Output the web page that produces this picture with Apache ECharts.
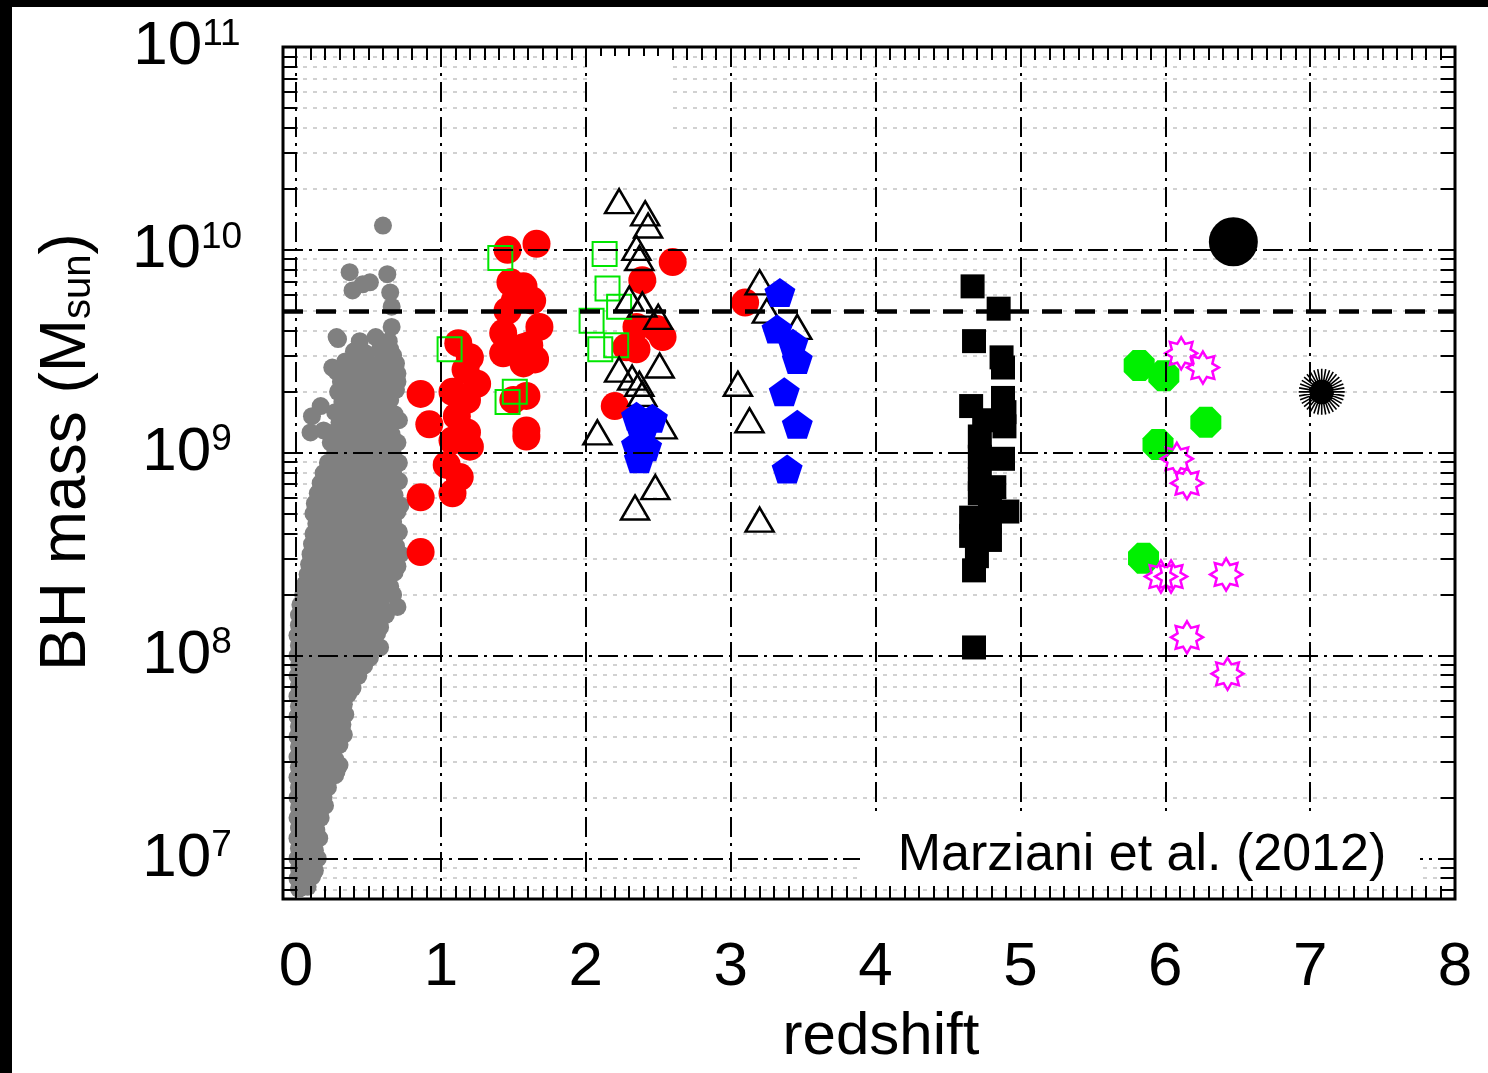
<!DOCTYPE html>
<html>
<head>
<meta charset="utf-8">
<title>BH mass vs redshift</title>
<script src="https://cdn.jsdelivr.net/npm/echarts@6/dist/echarts.min.js"></script>
<style>html,body{margin:0;padding:0;background:#fff;}</style>
</head>
<body>
<div id="main" style="width:1488px;height:1073px;"></div>
<script>
// every point is [redshift, log10(M_BH / M_sun)]
var grayLowZ = [
  [0.60,10.12],[0.37,9.89],[0.39,9.80],[0.46,9.83],[0.51,9.84],[0.63,9.88],[0.65,9.79],
  [0.66,9.72],[0.66,9.62],[0.28,9.57],[0.25,9.42],[0.70,9.35],[0.65,9.51],
  [0.17,9.23],[0.11,9.18],[0.10,9.10],[0.19,9.11],
  [0.29,9.56],[0.44,9.55],[0.55,9.57],[0.64,9.55],
  [0.40,9.50],[0.48,9.49],[0.58,9.51],[0.67,9.48],
  [0.34,9.45],[0.41,9.46],[0.51,9.44],[0.60,9.46],[0.69,9.44],
  [0.28,9.40],[0.37,9.41],[0.45,9.39],[0.54,9.40],[0.63,9.41],[0.70,9.39],
  [0.31,9.35],[0.40,9.36],[0.49,9.34],[0.57,9.35],[0.66,9.36],
  [0.29,9.30],[0.36,9.29],[0.44,9.31],[0.52,9.30],[0.61,9.29],[0.69,9.31],
  [0.32,9.25],[0.40,9.26],[0.48,9.24],[0.56,9.25],[0.65,9.26],
  [0.27,9.20],[0.35,9.21],[0.43,9.19],[0.51,9.20],[0.59,9.21],[0.68,9.19],
  [0.30,9.15],[0.38,9.14],[0.46,9.16],[0.55,9.15],[0.63,9.14],[0.71,9.16],
  [0.26,9.10],[0.34,9.11],[0.42,9.09],[0.50,9.10],[0.58,9.11],[0.66,9.09],
  [0.24,9.05],[0.31,9.04],[0.39,9.06],[0.47,9.05],[0.54,9.04],[0.62,9.06],[0.70,9.05],
  [0.27,9.00],[0.35,9.01],[0.43,8.99],[0.51,9.00],[0.59,9.01],[0.67,8.99],
  [0.22,8.95],[0.30,8.96],[0.38,8.94],[0.46,8.95],[0.55,8.96],[0.63,8.94],[0.71,8.95],
  [0.19,8.90],[0.26,8.89],[0.34,8.91],[0.42,8.90],[0.50,8.89],[0.58,8.91],[0.67,8.90],
  [0.17,8.85],[0.23,8.86],[0.31,8.84],[0.39,8.85],[0.47,8.86],[0.55,8.84],[0.63,8.85],[0.71,8.86],
  [0.15,8.80],[0.21,8.79],[0.28,8.81],[0.36,8.80],[0.44,8.79],[0.52,8.81],[0.60,8.80],[0.68,8.79],
  [0.13,8.75],[0.19,8.76],[0.26,8.74],[0.33,8.75],[0.41,8.76],[0.49,8.74],[0.57,8.75],[0.65,8.76],[0.72,8.74],
  [0.12,8.70],[0.17,8.69],[0.24,8.71],[0.31,8.70],[0.38,8.69],[0.46,8.71],[0.54,8.70],[0.62,8.69],[0.70,8.71],
  [0.14,8.65],[0.21,8.66],[0.28,8.64],[0.35,8.65],[0.43,8.66],[0.51,8.64],[0.59,8.65],[0.67,8.66],
  [0.12,8.60],[0.18,8.59],[0.25,8.61],[0.32,8.60],[0.40,8.59],[0.48,8.61],[0.56,8.60],[0.64,8.59],[0.71,8.61],
  [0.11,8.55],[0.16,8.56],[0.23,8.54],[0.30,8.55],[0.37,8.56],[0.45,8.54],[0.53,8.55],[0.61,8.56],[0.69,8.54],
  [0.10,8.50],[0.14,8.49],[0.20,8.51],[0.27,8.50],[0.34,8.49],[0.42,8.51],[0.50,8.50],[0.58,8.49],[0.66,8.51],[0.72,8.50],
  [0.09,8.45],[0.17,8.46],[0.24,8.44],[0.31,8.45],[0.39,8.46],[0.47,8.44],[0.55,8.45],[0.63,8.46],[0.70,8.44],
  [0.08,8.40],[0.13,8.39],[0.21,8.41],[0.28,8.40],[0.36,8.39],[0.44,8.41],[0.52,8.40],[0.60,8.39],[0.68,8.41],
  [0.06,8.35],[0.11,8.36],[0.18,8.34],[0.25,8.35],[0.33,8.36],[0.41,8.34],[0.49,8.35],[0.57,8.36],[0.65,8.34],
  [0.05,8.30],[0.09,8.29],[0.15,8.31],[0.22,8.30],[0.30,8.29],[0.38,8.31],[0.46,8.30],[0.54,8.29],[0.62,8.31],[0.67,8.30],
  [0.03,8.25],[0.08,8.26],[0.13,8.24],[0.20,8.25],[0.27,8.26],[0.35,8.24],[0.43,8.25],[0.51,8.26],[0.59,8.24],[0.70,8.24],
  [0.02,8.20],[0.06,8.19],[0.11,8.21],[0.17,8.20],[0.24,8.19],[0.32,8.21],[0.40,8.20],[0.48,8.19],[0.56,8.21],[0.62,8.20],
  [0.02,8.15],[0.08,8.16],[0.14,8.14],[0.21,8.15],[0.29,8.16],[0.37,8.14],[0.45,8.15],[0.53,8.16],[0.58,8.14],
  [0.01,8.10],[0.05,8.09],[0.11,8.11],[0.18,8.10],[0.26,8.09],[0.34,8.11],[0.42,8.10],[0.50,8.09],[0.56,8.11],
  [0.02,8.05],[0.08,8.06],[0.15,8.04],[0.23,8.05],[0.31,8.06],[0.39,8.04],[0.47,8.05],[0.54,8.06],[0.58,8.04],
  [0.01,8.00],[0.05,7.99],[0.12,8.01],[0.20,8.00],[0.28,7.99],[0.36,8.01],[0.44,8.00],[0.51,7.99],
  [0.02,7.95],[0.09,7.96],[0.17,7.94],[0.25,7.95],[0.33,7.96],[0.41,7.94],[0.47,7.95],
  [0.01,7.90],[0.06,7.89],[0.14,7.91],[0.22,7.90],[0.30,7.89],[0.37,7.91],[0.43,7.90],
  [0.02,7.85],[0.10,7.86],[0.18,7.84],[0.26,7.85],[0.33,7.86],[0.39,7.84],
  [0.01,7.80],[0.07,7.79],[0.15,7.81],[0.23,7.80],[0.30,7.79],[0.36,7.81],
  [0.02,7.75],[0.10,7.76],[0.18,7.74],[0.26,7.75],[0.33,7.76],
  [0.01,7.70],[0.06,7.69],[0.14,7.71],[0.22,7.70],[0.29,7.69],[0.34,7.71],
  [0.02,7.65],[0.10,7.66],[0.18,7.64],[0.26,7.65],[0.32,7.66],
  [0.01,7.60],[0.06,7.59],[0.14,7.61],[0.22,7.60],[0.29,7.59],[0.33,7.61],
  [0.02,7.55],[0.10,7.56],[0.18,7.54],[0.25,7.55],[0.30,7.56],
  [0.01,7.50],[0.06,7.49],[0.14,7.51],[0.21,7.50],[0.27,7.49],
  [0.02,7.45],[0.10,7.46],[0.17,7.44],[0.24,7.45],[0.30,7.46],
  [0.01,7.40],[0.06,7.39],[0.13,7.41],[0.20,7.40],[0.27,7.41],[0.28,7.43],
  [0.02,7.35],[0.09,7.36],[0.16,7.34],[0.22,7.35],
  [0.01,7.30],[0.06,7.29],[0.12,7.31],[0.19,7.30],
  [0.02,7.25],[0.09,7.26],[0.15,7.24],[0.20,7.26],
  [0.01,7.20],[0.06,7.19],[0.12,7.21],[0.17,7.20],
  [0.02,7.15],[0.08,7.16],[0.14,7.14],
  [0.01,7.10],[0.05,7.09],[0.11,7.11],[0.16,7.10],
  [0.02,7.05],[0.08,7.06],[0.13,7.04],
  [0.01,7.00],[0.05,6.99],[0.11,7.01],[0.15,7.00],
  [0.02,6.95],[0.08,6.96],[0.13,6.94],
  [0.01,6.90],[0.05,6.89],[0.11,6.91],[0.12,6.93],
  [0.02,6.85],[0.08,6.86]
];

var redCircles = [
  [0.86,9.29],[0.92,9.14],[0.86,8.78],[0.86,8.51],
  [1.12,9.54],[1.20,9.47],[1.25,9.34],[1.18,9.26],[1.08,9.30],[1.11,9.18],[1.18,9.10],
  [1.08,9.06],[1.20,9.03],[1.13,8.88],[1.08,8.80],[1.04,8.94],[1.17,9.41],
  [1.46,10.00],[1.66,10.03],[1.48,9.84],[1.57,9.82],[1.63,9.75],[1.46,9.70],[1.68,9.62],
  [1.43,9.59],[1.57,9.52],[1.43,9.49],[1.57,9.44],[1.59,9.28],[1.50,9.26],[1.59,9.11],
  [1.59,9.08],[1.51,9.75],[1.61,9.53],[1.65,9.46],
  [2.60,9.94],[2.39,9.85],[2.35,9.62],[2.49,9.61],[2.53,9.57],[2.28,9.52],[2.35,9.51],[2.20,9.23],
  [3.10,9.74]
];

var greenSquares = [
  [1.41,9.96],[1.06,9.51],[1.51,9.30],[1.46,9.25],
  [2.13,9.98],[2.15,9.81],[2.23,9.72],[2.04,9.65],[2.21,9.53],[2.10,9.51]
];

var openTriangles = [
  [2.23,10.24],[2.41,10.18],[2.43,10.12],[2.35,10.01],[2.37,9.96],[2.30,9.76],[2.39,9.73],
  [2.50,9.67],[2.23,9.41],[2.32,9.37],[2.37,9.34],[2.51,9.43],[2.39,9.29],[2.53,9.13],
  [2.08,9.10],[2.48,8.83],[2.34,8.73],
  [3.20,9.84],[3.25,9.70],[3.46,9.62],[3.05,9.34],[3.13,9.16],[3.20,8.67]
];

var bluePentagons = [
  [2.35,9.18],[2.46,9.17],[2.39,9.10],[2.42,9.03],[2.37,8.97],[2.35,9.04],
  [3.34,9.79],[3.32,9.61],[3.43,9.54],[3.46,9.46],[3.37,9.30],[3.46,9.14],[3.39,8.92]
];

var blackSquares = [
  [4.67,9.82],[4.85,9.71],[4.68,9.55],[4.87,9.47],[4.88,9.42],[4.66,9.23],[4.88,9.27],
  [4.89,9.20],[4.72,9.08],[4.89,9.13],[4.72,8.98],[4.88,8.97],[4.72,8.87],[4.82,8.83],
  [4.72,8.80],[4.91,8.71],[4.66,8.68],[4.79,8.66],[4.66,8.59],[4.79,8.57],[4.70,8.49],
  [4.68,8.42],[4.68,8.04],[4.75,9.16],[4.79,8.77]
];

var greenOctagons = [
  [5.82,9.43],[5.99,9.38],[6.28,9.15],[5.95,9.04],[5.85,8.48]
];

var magentaStars = [
  [6.11,9.49],[6.26,9.42],[6.08,8.97],[6.15,8.85],[5.97,8.39],[6.04,8.39],
  [6.42,8.40],[6.15,8.09],[6.43,7.91]
];

var bigBlackCircle = [[6.47,10.04]];
var blackStarburst = [[7.08,9.30]];

var eddingtonMass = 5e9;          // thick dashed reference line
var xRange = [-0.09, 8];
var yRangeLog = [6.8, 11];

var F = "'Liberation Sans', Arial, sans-serif";
var yMin = Math.pow(10, yRangeLog[0]);
var yMax = Math.pow(10, yRangeLog[1]);

function toMass(list) {
  return list.map(function (p) { return [p[0], Math.pow(10, p[1])]; });
}

// log minor grid values and tick marks
var minorLines = [];
var yTickVals = [];
for (var n = 6; n <= 10; n++) {
  for (var k = 1; k <= 9; k++) {
    var v = k * Math.pow(10, n);
    if (v <= yMin || v >= yMax) continue;
    yTickVals.push(v);
    if (k > 1) minorLines.push({ yAxis: v });
  }
}
var xTickVals = [];
for (var i = 0; i < 80; i++) xTickVals.push(i / 10);

var tickSegs = [];
xTickVals.forEach(function (t) {
  tickSegs.push([{ coord: [t, yMin] }, { coord: [t, yMin * 1.16] }]);
  tickSegs.push([{ coord: [t, yMax] }, { coord: [t, yMax / 1.16] }]);
});
yTickVals.forEach(function (v) {
  tickSegs.push([{ coord: [xRange[0], v] }, { coord: [xRange[0] + 0.1, v] }]);
  tickSegs.push([{ coord: [xRange[1], v] }, { coord: [xRange[1] - 0.1, v] }]);
});

var dashDot = { color: '#000', width: 2, type: [20, 6, 3, 6] };

var pentagon = 'path://M50,0L97.55,34.55L79.39,90.45L20.61,90.45L2.45,34.55Z';
var octagon = 'path://M69.1,3.8L96.2,30.9L96.2,69.1L69.1,96.2L30.9,96.2L3.8,69.1L3.8,30.9L30.9,3.8Z';
var star8 = 'path://M50,0L62.2,20.6L85.4,14.6L79.4,37.8L100,50L79.4,62.2L85.4,85.4L62.2,79.4L50,100L37.8,79.4L14.6,85.4L20.6,62.2L0,50L20.6,37.8L14.6,14.6L37.8,20.6Z';
var starburst = 'path://M100,50L0,50M99.2,58.7L0.8,41.3M97,67.1L3,32.9M93.3,75L6.7,25M88.3,82.1L11.7,17.9' +
  'M82.1,88.3L17.9,11.7M75,93.3L25,6.7M67.1,97L32.9,3M58.7,99.2L41.3,0.8M50,100L50,0' +
  'M41.3,99.2L58.7,0.8M32.9,97L67.1,3M25,93.3L75,6.7M17.9,88.3L82.1,11.7M11.7,82.1L88.3,17.9' +
  'M6.7,75L93.3,25M3,67.1L97,32.9M0.8,58.7L99.2,41.3' +
  'M25,50A25,25,0,1,1,75,50A25,25,0,1,1,25,50Z';

var myChart = echarts.init(document.getElementById('main'));

var option = {
  animation: false,
  backgroundColor: '#fff',
  grid: {
    left: 283, right: 33, top: 47, bottom: 174,
    show: true, borderColor: '#000', borderWidth: 3,
    outerBoundsMode: 'none'
  },
  xAxis: {
    type: 'value',
    min: xRange[0], max: xRange[1],
    splitNumber: 8,
    z: 3,
    axisLine: { show: false },
    axisTick: { show: false },
    splitLine: { show: true, lineStyle: dashDot },
    axisLabel: {
      margin: 38, fontSize: 62, color: '#000', fontFamily: F,
      formatter: function (v) {
        var r = Math.round(v);
        return Math.abs(v - r) < 1e-6 ? String(Math.abs(r)) : '';
      }
    },
    name: 'redshift',
    nameLocation: 'middle',
    nameGap: 108,
    nameMoveOverlap: false,
    nameTextStyle: { fontSize: 60, color: '#000', fontFamily: F, padding: [0, 0, 0, 24] }
  },
  yAxis: {
    type: 'log',
    logBase: 10,
    min: yMin, max: yMax,
    z: 3,
    axisLine: { show: false },
    axisTick: { show: false },
    splitLine: { show: true, lineStyle: dashDot },
    axisLabel: {
      margin: 96, align: 'center',
      formatter: function (v) {
        var e = Math.log10(v), r = Math.round(e);
        if (Math.abs(e - r) > 1e-6) return '';
        return '{b|10}{s|' + r + '}';
      },
      rich: {
        b: { fontSize: 62, fontFamily: F, color: '#000' },
        s: { fontSize: 37, fontFamily: F, color: '#000', verticalAlign: 'top' }
      }
    },
    name: '{n|BH mass (M}{sub|sun}{n|)}',
    nameLocation: 'middle',
    nameGap: 184,
    nameMoveOverlap: false,
    nameTextStyle: {
      color: '#000',
      padding: [0, 0, 0, 42],
      rich: {
        n: { fontSize: 64, fontFamily: F, color: '#000' },
        sub: { fontSize: 40, fontFamily: F, color: '#000', verticalAlign: 'bottom' }
      }
    }
  },
  series: [
    {
      name: 'minor grid', type: 'scatter', data: [], z: 1, silent: true,
      markLine: {
        z: 1, silent: true, symbol: ['none', 'none'], label: { show: false },
        emphasis: { disabled: true },
        lineStyle: { color: '#c2c2c2', width: 1.5, type: [4, 6] },
        data: minorLines
      }
    },
    {
      name: 'low z', type: 'scatter', symbol: 'circle', symbolSize: 18,
      itemStyle: { color: '#808080', opacity: 1 },
      data: toMass(grayLowZ)
    },
    {
      name: 'red', type: 'scatter', symbol: 'circle', symbolSize: 28,
      itemStyle: { color: '#ff0000', opacity: 1 },
      data: toMass(redCircles)
    },
    {
      name: 'green squares', type: 'scatter', symbol: 'rect', symbolSize: 24,
      itemStyle: { color: 'rgba(0,0,0,0)', borderColor: '#00e600', borderWidth: 2, opacity: 1 },
      data: toMass(greenSquares)
    },
    {
      name: 'triangles', type: 'scatter', symbol: 'triangle', symbolSize: [28, 24],
      itemStyle: { color: 'rgba(0,0,0,0)', borderColor: '#000', borderWidth: 2.5, opacity: 1 },
      data: toMass(openTriangles)
    },
    {
      name: 'blue', type: 'scatter', symbol: pentagon, symbolSize: [31, 29],
      itemStyle: { color: '#0000ff', opacity: 1 },
      data: toMass(bluePentagons)
    },
    {
      name: 'black squares', type: 'scatter', symbol: 'rect', symbolSize: 24,
      itemStyle: { color: '#000', opacity: 1 },
      data: toMass(blackSquares)
    },
    {
      name: 'green octagons', type: 'scatter', symbol: octagon, symbolSize: 31,
      itemStyle: { color: '#00f000', opacity: 1 },
      data: toMass(greenOctagons)
    },
    {
      name: 'magenta stars', type: 'scatter', symbol: star8, symbolSize: 32,
      itemStyle: { color: 'rgba(0,0,0,0)', borderColor: '#ff00ff', borderWidth: 2.5, opacity: 1 },
      data: toMass(magentaStars)
    },
    {
      name: 'big circle', type: 'scatter', symbol: 'circle', symbolSize: 49,
      itemStyle: { color: '#000', opacity: 1 },
      data: toMass(bigBlackCircle)
    },
    {
      name: 'starburst', type: 'scatter', symbol: starburst, symbolSize: 46,
      itemStyle: { color: '#000', borderColor: '#000', borderWidth: 1.6, opacity: 1 },
      data: toMass(blackStarburst)
    },
    {
      name: 'frame ticks', type: 'scatter', data: [], silent: true,
      markLine: {
        z: 4, silent: true, symbol: ['none', 'none'], label: { show: false },
        emphasis: { disabled: true },
        lineStyle: { color: '#000', width: 2, type: 'solid' },
        data: tickSegs
      }
    },
    {
      name: 'reference mass', type: 'scatter', data: [], silent: true,
      markLine: {
        z: 4, silent: true, symbol: ['none', 'none'], label: { show: false },
        emphasis: { disabled: true },
        lineStyle: { color: '#000', width: 4.5, type: [20, 13] },
        data: [{ yAxis: eddingtonMass }]
      }
    }
  ],
  graphic: [
    { type: 'rect', z: 100, shape: { x: 0, y: 0, width: 1488, height: 7 }, style: { fill: '#000' } },
    { type: 'rect', z: 100, shape: { x: 0, y: 0, width: 12, height: 1073 }, style: { fill: '#000' } },
    { type: 'rect', z: 90, shape: { x: 592, y: 56, width: 78, height: 80 }, style: { fill: '#fff' } },
    { type: 'rect', z: 90, shape: { x: 860, y: 816, width: 560, height: 70 }, style: { fill: '#fff' } },
    {
      type: 'text', z: 91, x: 1142, y: 856,
      style: {
        text: 'Marziani et al. (2012)', fontSize: 52, fontFamily: F, fill: '#000',
        align: 'center', verticalAlign: 'middle'
      }
    }
  ]
};

myChart.setOption(option);
</script>
</body>
</html>
